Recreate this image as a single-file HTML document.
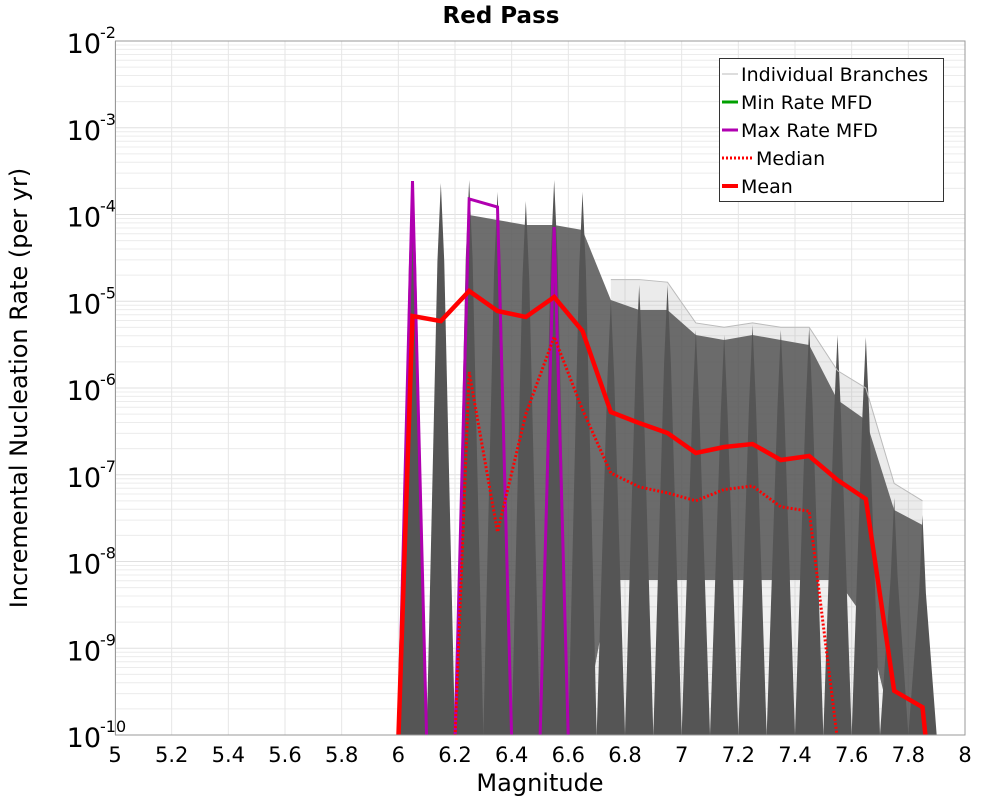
<!DOCTYPE html>
<html><head><meta charset="utf-8"><style>
body{margin:0;background:#fff;font-family:"DejaVu Sans","Liberation Sans",sans-serif}
svg text{font-family:"DejaVu Sans","Liberation Sans",sans-serif}
</style></head><body>
<svg id="chart" width="1000" height="800" xmlns="http://www.w3.org/2000/svg">
<rect width="1000" height="800" fill="#fff"/>
<text x="501" y="23" text-anchor="middle" font-size="23" font-weight="bold">Red Pass</text>
<g id="grid"></g>
<defs><clipPath id="clip"><rect x="115" y="41" width="850" height="694"/></clipPath></defs>
<g id="plot" clip-path="url(#clip)"></g>
<rect x="115.5" y="41" width="849.5" height="694" fill="none" stroke="#999" stroke-width="1"/>
<g id="xticks"></g>
<g id="yticks"></g>
<text x="540" y="791" text-anchor="middle" font-size="24">Magnitude</text>
<text transform="translate(27,388) rotate(-90)" text-anchor="middle" font-size="24">Incremental Nucleation Rate (per yr)</text>
<g>
<rect x="719.5" y="58.5" width="224" height="143" fill="#fff" stroke="#333" stroke-width="1"/>
<g><line x1="722" y1="74" x2="738" y2="74" stroke="#bbb" stroke-width="1"/><text x="741" y="81" font-size="19">Individual Branches</text></g>
<g><line x1="722" y1="102" x2="738" y2="102" stroke="#00a000" stroke-width="3"/><text x="741" y="109" font-size="19">Min Rate MFD</text></g>
<g><line x1="722" y1="130" x2="738" y2="130" stroke="#b000b0" stroke-width="3"/><text x="741" y="137" font-size="19">Max Rate MFD</text></g>
<g><line x1="722" y1="158" x2="752" y2="158" stroke="#f00" stroke-width="3" stroke-dasharray="2,2"/><text x="756" y="165" font-size="19">Median</text></g>
<g><line x1="722" y1="186" x2="738" y2="186" stroke="#f00" stroke-width="4"/><text x="741" y="193" font-size="19">Mean</text></g>
</g>
</svg>
<script>
// Magnitude bin centers
const mags = [6.05,6.15,6.25,6.35,6.45,6.55,6.65,6.75,6.85,6.95,7.05,7.15,7.25,7.35,7.45,7.55,7.65,7.75,7.85];
// log10 rates (null = zero rate)
const meanLog = [-5.17,-5.228,-4.882,-5.112,-5.181,-4.951,-5.343,-6.277,-6.404,-6.519,-6.749,-6.68,-6.646,-6.83,-6.784,-7.06,-7.28,-9.49,-9.68];
const medianLog = [null,null,-5.815,-7.66,-6.3,-5.41,-6.25,-6.98,-7.14,-7.21,-7.30,-7.17,-7.13,-7.37,-7.42,null,null,null,null];
const maxRateLog = [-3.614,null,-3.821,-3.914,null,-4.144,null,null,null,null,null,null,null,null,null,null,null,null,null];
const minRateLog = [null,null,null,null,null,null,null,null,null,null,null,null,null,null,null,null,null,null,null];
// Individual branch envelope (log10)
const branchPeakLog = [-3.614,-3.637,-3.602,-3.741,-3.844,-3.602,-3.741,-4.986,-4.813,-4.813,-5.331,-5.389,-5.274,-5.331,-5.297,-5.389,-5.412,-7.268,-7.464];
const branchDenseTopLog = [null,null,-4.006,-4.063,-4.121,-4.121,-4.179,-4.986,-5.101,-5.101,-5.389,-5.447,-5.389,-5.447,-5.504,-6.138,-6.369,-7.406,-7.579];
const branchDenseBottomLog = [null,null,-10,-10,-10,-10,-10,-8.213,-8.213,-8.213,-8.213,-8.213,-8.213,-8.213,-8.213,-8.213,-8.674,-10,-10];
const branchFaintTopLog = [null,null,null,null,null,null,null,-4.75,-4.75,-4.78,-5.25,-5.3,-5.25,-5.3,-5.3,-5.8,-6.0,-7.1,-7.3];
const xTicks = [5,5.2,5.4,5.6,5.8,6,6.2,6.4,6.6,6.8,7,7.2,7.4,7.6,7.8,8];
const yExps = [-2,-3,-4,-5,-6,-7,-8,-9,-10];

const NS="http://www.w3.org/2000/svg";
const X0=115,X1=965,Y0=41,Y1=735;
const xS=m=>X0+(m-5)/3*(X1-X0);
const yS=l=>Y0+(-2-l)/8*(Y1-Y0);
function mk(tag,attrs,parent){const e=document.createElementNS(NS,tag);for(const k in attrs)e.setAttribute(k,attrs[k]);parent.appendChild(e);return e;}
const grid=document.getElementById('grid'),plot=document.getElementById('plot');
for(let e=-10;e<-2;e++){for(let k=1;k<10;k++){const y=yS(e+Math.log10(k));
 const g=mk('line',{x1:X0,x2:X1,y1:y,y2:y,stroke:k==1?'#e0e0e0':'#ececec','stroke-width':1},grid);
 }}
xTicks.forEach(t=>{const x=xS(t);const g=mk('line',{x1:x,x2:x,y1:Y0,y2:Y1,stroke:'#e6e6e6','stroke-width':1},grid);
 });
const xt=document.getElementById('xticks');
xTicks.forEach(t=>{const tx=mk('text',{x:xS(t),y:762,'text-anchor':'middle','font-size':21},xt);tx.textContent=String(t);
 });
const yt=document.getElementById('yticks');
yExps.forEach(e=>{const y=yS(e);const g=mk('text',{x:101,y:y+12,'text-anchor':'end','font-size':27},yt);g.textContent='10';
 
 const s=mk('text',{x:100,y:y-3,'text-anchor':'start','font-size':16},yt);s.textContent=String(e);
 });
function band(topArr,botArr,fill,op,name){let top=[],bot=[];
 mags.forEach((m,i)=>{if(topArr[i]!=null){top.push([xS(m),yS(topArr[i])]);bot.push([xS(m),yS(botArr?botArr[i]:-10)]);}});
 const pts=top.concat(bot.reverse()).map(p=>p.join(',')).join(' ');
 const p=mk('polygon',{points:pts,fill:fill,'fill-opacity':op},plot);}
band(branchFaintTopLog,branchDenseBottomLog,'#999',0.2,'branch-faint-band');
band(branchDenseTopLog,branchDenseBottomLog,'#555',0.85,'branch-dense-band');
band(branchDenseBottomLog.map((v,i)=>branchDenseTopLog[i]==null?null:v),null,'#999',0.15,'branch-low-band');
mags.forEach((m,i)=>{const p=mk('polygon',{points:`${xS(m-0.05)},${Y1} ${xS(m-0.012)},${yS(branchPeakLog[i]-0.9)} ${xS(m)},${yS(branchPeakLog[i])} ${xS(m+0.012)},${yS(branchPeakLog[i]-0.9)} ${xS(m+0.05)},${Y1}`,fill:'#555'},plot);
 });
(function(){let d='';mags.forEach((m,i)=>{if(branchFaintTopLog[i]!=null)d+=(d?'L':'M')+xS(m)+','+yS(branchFaintTopLog[i]);});
 const p=mk('path',{d:d,fill:'none',stroke:'#bbb','stroke-width':1},plot);})();
function seriesPath(arr,endOff){let d='',prev=null,pm=null;
 mags.forEach((m,i)=>{const v=arr[i];
  if(v!=null){if(prev==null){d+='M'+xS(m-0.05)+','+(Y1+5)+'L';}else d+='L';d+=xS(m)+','+yS(v);}
  else if(prev!=null){d+='L'+xS(pm+endOff)+','+(Y1+5);}
  prev=v;pm=m;});
 if(prev!=null)d+='L'+xS(pm+endOff)+','+(Y1+5);
 return d;}
const s1=mk('path',{d:seriesPath(minRateLog,0.05),fill:'none',stroke:'#00a000','stroke-width':3},plot);

const s2=mk('path',{d:seriesPath(maxRateLog,0.05),fill:'none',stroke:'#b000b0','stroke-width':3},plot);

const s3=mk('path',{d:seriesPath(medianLog,0.1),fill:'none',stroke:'#f00','stroke-width':3,'stroke-dasharray':'2,2'},plot);

const s4=mk('path',{d:seriesPath(meanLog,0.012),fill:'none',stroke:'#f00','stroke-width':4.5,'stroke-linejoin':'miter'},plot);

</script>
</body></html>
